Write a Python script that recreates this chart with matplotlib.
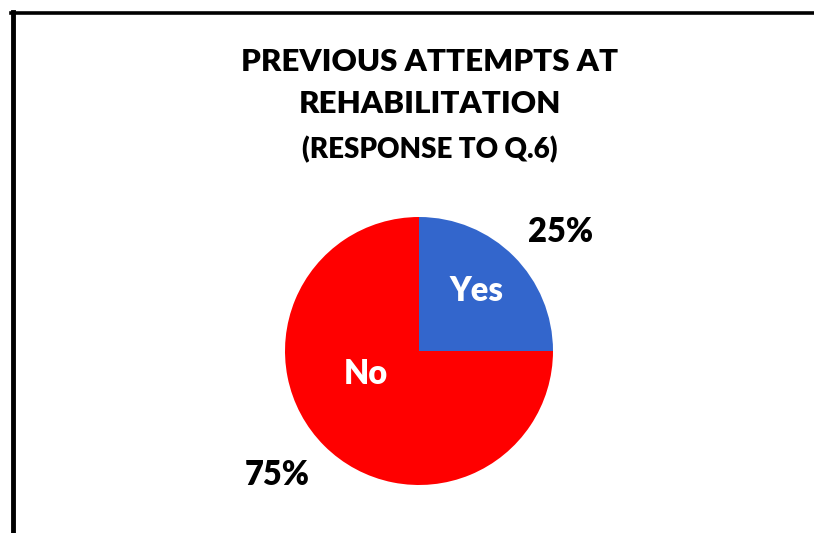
import matplotlib.pyplot as plt
from matplotlib.lines import Line2D

plt.rcParams['font.family'] = ['Lato', 'DejaVu Sans']

# data
categories = ['Yes', 'No']
shares = [25, 75]
pct_labels = ['25%', '75%']
colors = ['#3366CC', '#FF0000']

title_lines = ['PREVIOUS ATTEMPTS AT', 'REHABILITATION']
subtitle = '(RESPONSE TO Q.6)'

W, H = 814, 533
fig = plt.figure(figsize=(W / 100, H / 100), dpi=100)
fig.patch.set_facecolor('white')

ax = fig.add_axes([0, 0, 1, 1])
cx, cy, r = 419, H - 351, 134
wedges, _ = ax.pie(shares, colors=colors, startangle=90, counterclock=False,
                   center=(cx, cy), radius=r,
                   wedgeprops=dict(linewidth=0))
ax.set_xlim(0, W)
ax.set_ylim(0, H)
ax.set_aspect('auto')
ax.axis('off')

wt = 'heavy'

# labels inside and outside (image pixel positions)
inner_pos = [(476, 291), (366, 374)]
outer_pos = [(561, 232), (277, 475)]
for name, (x, y) in zip(categories, inner_pos):
    ax.text(x, H - y, name, color='white', fontsize=23.5, fontweight=wt,
            ha='center', va='center')
for lab, (x, y) in zip(pct_labels, outer_pos):
    ax.text(x, H - y, lab, color='black', fontsize=23.5, fontweight=wt,
            ha='center', va='center')

# title
ax.text(430, H - 62, title_lines[0], fontsize=22.5, fontweight=wt,
        ha='center', va='center')
ax.text(430, H - 104, title_lines[1], fontsize=22.5, fontweight=wt,
        ha='center', va='center')
ax.text(430, H - 150, subtitle, fontsize=20, fontweight=wt,
        ha='center', va='center')

# chart border (left and top only visible)
fig.add_artist(Line2D([12.5 / W, 12.5 / W], [0, 1 - 12 / H], color='black',
                      linewidth=3.5, transform=fig.transFigure))
fig.add_artist(Line2D([10.5 / W, 1], [1 - 12.5 / H, 1 - 12.5 / H], color='black',
                      linewidth=2.6, transform=fig.transFigure))

fig.savefig('out.png', dpi=100)
